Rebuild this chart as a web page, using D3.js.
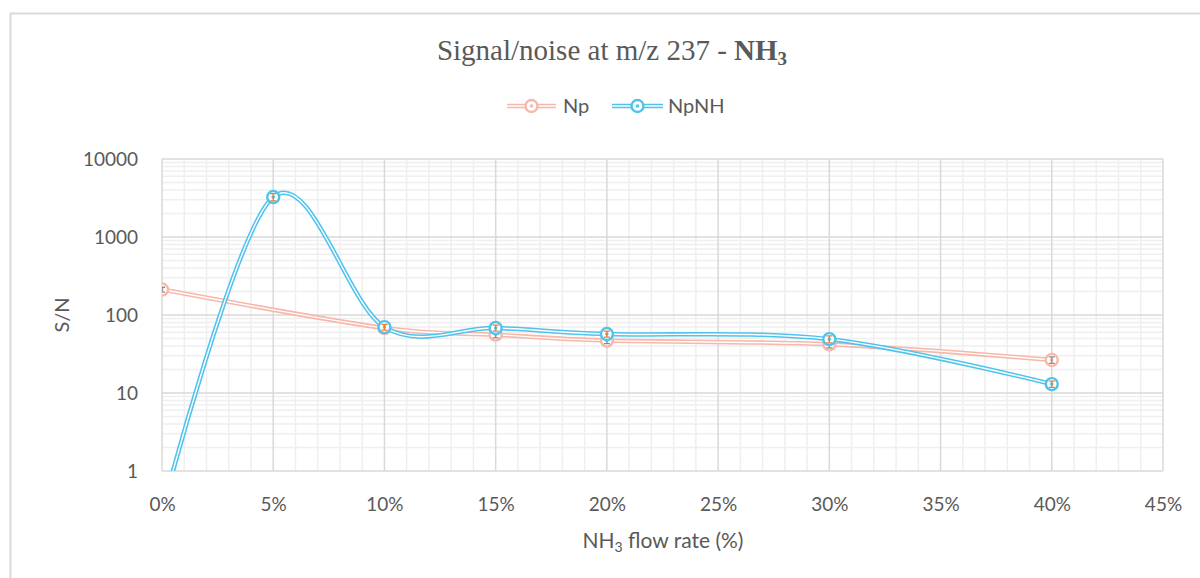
<!DOCTYPE html>
<html>
<head>
<meta charset="utf-8">
<script src="https://cdnjs.cloudflare.com/ajax/libs/d3/7.8.5/d3.min.js"></script>
<style>
  body { margin: 0; background: #fff; }
  svg { display: block; }
</style>
</head>
<body>
<div id="container"></div>
<script>
/* CONSTANTS AND GLOBALS */
const width = 1200;
const height = 578;
const plot = { left: 162, right: 1163, top: 159, bottom: 471 };

/* DATA */
const npFlow = [0, 10, 15, 20, 30, 40];
const npValues = [212, 68, 56, 47, 42, 26.5];
const npErrors = [15, 6, 5, 4, 4, 2.5];

const npnhFlow = [0, 5, 10, 15, 20, 30, 40];
const npnhValues = [0.3, 3250, 70, 68, 57, 49, 13];
const npnhErrors = [0, 350, 6, 6, 5, 5, 1.2];

const xTicks = [0, 5, 10, 15, 20, 25, 30, 35, 40, 45];
const yTicks = [1, 10, 100, 1000, 10000];

const seriesNames = ["Np", "NpNH"];
const seriesColors = ["#F7B7AA", "#4FC3EC"];
const errorColors = ["#8C8C8C", "#ED7D31"];

const textColor = "#595959";
const font = "Lato, 'Open Sans', sans-serif";

const svg = d3.select("#container")
  .append("svg")
  .attr("width", width)
  .attr("height", height);

/* FRAME */
svg.append("path")
  .attr("d", `M10.5,${height} V13.5 H${width}`)
  .attr("fill", "none")
  .attr("stroke", "#D9D9D9")
  .attr("stroke-width", 2);

/* SCALES */
const xScale = d3.scaleLinear()
  .domain([0, 45])
  .range([plot.left, plot.right]);

const yScale = d3.scaleLog()
  .domain([1, 10000])
  .range([plot.bottom, plot.top]);

/* GRID */
const grid = svg.append("g");
// minor vertical
grid.selectAll(".vminor")
  .data(d3.range(0, 46, 1).filter(d => d % 5 !== 0))
  .join("line")
  .attr("x1", d => xScale(d)).attr("x2", d => xScale(d))
  .attr("y1", plot.top).attr("y2", plot.bottom)
  .attr("stroke", "#EFEFEF").attr("stroke-width", 1.5);
// minor horizontal
const minorY = [];
yTicks.slice(0, -1).forEach(t => { for (let k = 2; k < 10; k++) minorY.push(t * k); });
grid.selectAll(".hminor")
  .data(minorY)
  .join("line")
  .attr("x1", plot.left).attr("x2", plot.right)
  .attr("y1", d => yScale(d)).attr("y2", d => yScale(d))
  .attr("stroke", "#EFEFEF").attr("stroke-width", 1.5);
// major
grid.selectAll(".vmajor")
  .data(xTicks)
  .join("line")
  .attr("x1", d => xScale(d)).attr("x2", d => xScale(d))
  .attr("y1", plot.top).attr("y2", plot.bottom)
  .attr("stroke", "#D9D9D9").attr("stroke-width", 1.5);
grid.selectAll(".hmajor")
  .data(yTicks)
  .join("line")
  .attr("x1", plot.left).attr("x2", plot.right)
  .attr("y1", d => yScale(d)).attr("y2", d => yScale(d))
  .attr("stroke", "#D9D9D9").attr("stroke-width", 1.5);

/* AXES */
const xAxis = d3.axisBottom(xScale)
  .tickValues(xTicks)
  .tickFormat(d => d + "%")
  .tickSize(0)
  .tickPadding(27);
svg.append("g")
  .attr("transform", `translate(0, ${plot.bottom})`)
  .call(xAxis)
  .call(g => g.select(".domain").remove())
  .selectAll("text")
  .style("font-size", "19px")
  .style("font-family", font)
  .attr("fill", textColor);

const yAxis = d3.axisLeft(yScale)
  .tickValues(yTicks)
  .tickFormat(d3.format("d"))
  .tickSize(0)
  .tickPadding(24);
svg.append("g")
  .attr("transform", `translate(${plot.left}, 0)`)
  .call(yAxis)
  .call(g => g.select(".domain").remove())
  .selectAll("text")
  .style("font-size", "19px")
  .style("font-family", font)
  .attr("fill", textColor);

/* TITLES */
const title = svg.append("text")
  .attr("x", 612)
  .attr("y", 60)
  .attr("text-anchor", "middle")
  .style("font-family", "'Liberation Serif', 'DejaVu Serif', serif")
  .style("font-size", "29px")
  .attr("fill", textColor);
title.append("tspan").text("Signal/noise at m/z 237 - ");
title.append("tspan").attr("font-weight", "bold").text("NH");
title.append("tspan").attr("font-weight", "bold").attr("font-size", "19px").attr("dy", 5).text("3");

const xTitle = svg.append("text")
  .attr("x", 663)
  .attr("y", 548)
  .attr("text-anchor", "middle")
  .style("font-family", font)
  .style("font-size", "21px")
  .attr("fill", textColor);
xTitle.append("tspan").text("NH");
xTitle.append("tspan").attr("font-size", "14px").attr("dy", 4).text("3");
xTitle.append("tspan").attr("dy", -4).text(" flow rate (%)");

svg.append("text")
  .attr("transform", "translate(69, 315) rotate(-90)")
  .attr("text-anchor", "middle")
  .style("font-family", font)
  .style("font-size", "20px")
  .attr("fill", textColor)
  .text("S/N");

/* SERIES */
svg.append("clipPath").attr("id", "plotclip")
  .append("rect")
  .attr("x", plot.left).attr("y", plot.top)
  .attr("width", plot.right - plot.left).attr("height", plot.bottom - plot.top);

const line = d3.line()
  .x(d => xScale(d[0]))
  .y(d => yScale(d[1]))
  .curve(d3.curveCatmullRom.alpha(0));

const series = [
  { flow: npFlow, values: npValues, errors: npErrors },
  { flow: npnhFlow, values: npnhValues, errors: npnhErrors }
];

function marker(g, x, y, color) {
  g.append("circle").attr("cx", x).attr("cy", y).attr("r", 6)
    .attr("fill", "#fff").attr("stroke", color).attr("stroke-width", 2.4);
  g.append("circle").attr("cx", x).attr("cy", y).attr("r", 1.8).attr("fill", color);
}

series.forEach((s, i) => {
  const pts = s.flow.map((f, j) => [f, s.values[j]]);
  const g = svg.append("g").attr("clip-path", "url(#plotclip)");
  g.append("path").attr("d", line(pts))
    .attr("fill", "none").attr("stroke", seriesColors[i]).attr("stroke-width", 4.5);
  g.append("path").attr("d", line(pts))
    .attr("fill", "none").attr("stroke", "#fff").attr("stroke-width", 1.4);
});

series.forEach((s, i) => {
  const g = svg.append("g").attr("clip-path", "url(#plotclip)");
  s.flow.forEach((f, j) => {
    const v = s.values[j];
    if (v < 1) return;
    const x = xScale(f);
    marker(g, x, yScale(v), seriesColors[i]);
    const e = s.errors[j];
    const y1 = yScale(v + e), y2 = yScale(Math.max(v - e, 0.01));
    g.append("path")
      .attr("d", `M${x},${y1} V${y2} M${x - 3},${y1} H${x + 3} M${x - 3},${y2} H${x + 3}`)
      .attr("fill", "none").attr("stroke", errorColors[i]).attr("stroke-width", 1.3);
  });
});

/* LEGEND */
const legendItems = [
  { x: 507, w: 49, textX: 563 },
  { x: 612, w: 51, textX: 668 }
];
legendItems.forEach((it, i) => {
  const g = svg.append("g");
  g.append("line").attr("x1", it.x).attr("x2", it.x + it.w).attr("y1", 106).attr("y2", 106)
    .attr("stroke", seriesColors[i]).attr("stroke-width", 4.5);
  g.append("line").attr("x1", it.x).attr("x2", it.x + it.w).attr("y1", 106).attr("y2", 106)
    .attr("stroke", "#fff").attr("stroke-width", 1.4);
  marker(g, it.x + it.w / 2, 106, seriesColors[i]);
  g.append("text").attr("x", it.textX).attr("y", 113)
    .style("font-family", font).style("font-size", "20px")
    .attr("fill", textColor).text(seriesNames[i]);
});
</script>
</body>
</html>
